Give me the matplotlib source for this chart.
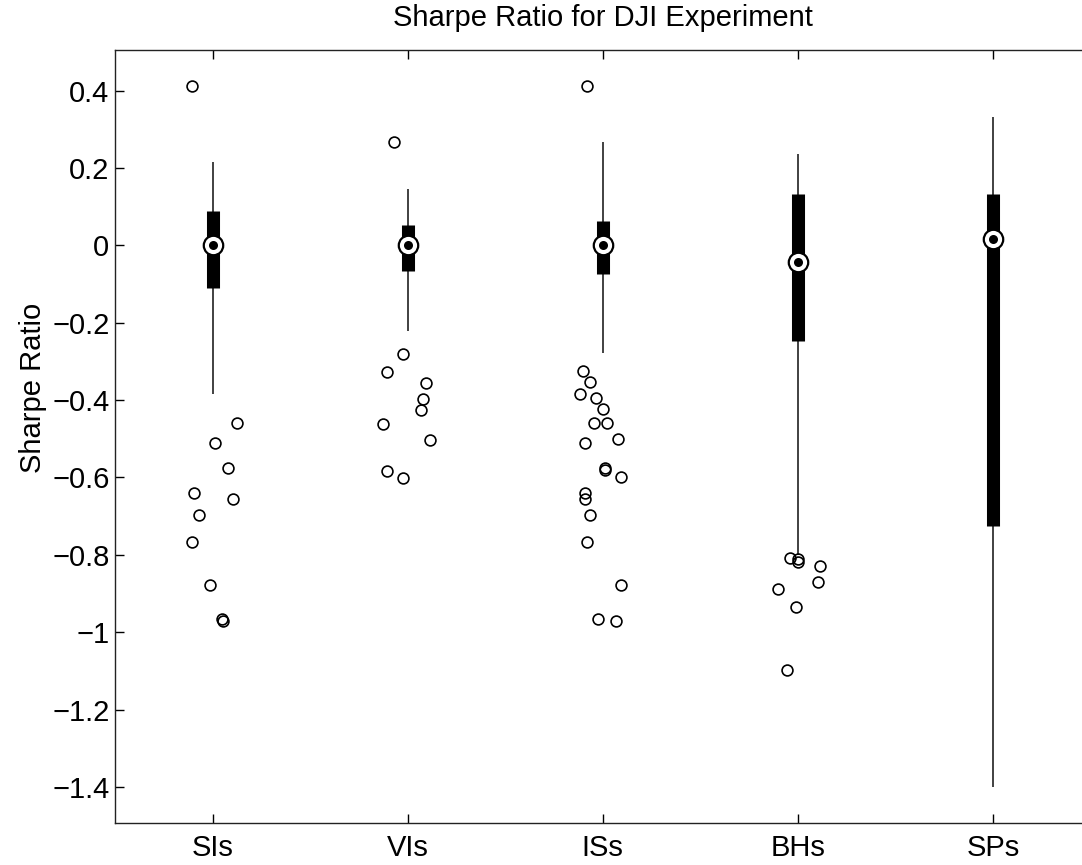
import numpy as np
import matplotlib
matplotlib.use('Agg')
import matplotlib.pyplot as plt

#%% Data

labels    = ['SIs', 'VIs', 'ISs', 'BHs', 'SPs']

whisk_hi  = [0.216, 0.145, 0.268, 0.236, 0.331]
q3        = [0.088, 0.052, 0.064, 0.133, 0.132]
medians   = [0.002, 0.002, 0.002, -0.043, 0.017]
q1        = [-0.110, -0.065, -0.074, -0.247, -0.725]
whisk_lo  = [-0.383, -0.222, -0.279, -0.800, -1.401]

# outliers, with the small horizontal jitter seen in the picture
out_SIs   = [0.412, -0.458, -0.510, -0.575, -0.639, -0.656, -0.697, -0.767, -0.878, -0.965, -0.970]
jit_SIs   = [-0.104, 0.126, 0.012, 0.080, -0.094, 0.104, -0.070, -0.104, -0.012, 0.048, 0.056]

out_VIs   = [0.267, -0.280, -0.327, -0.356, -0.396, -0.426, -0.461, -0.502, -0.583, -0.601]
jit_VIs   = [-0.070, -0.024, -0.104, 0.092, 0.080, 0.068, -0.128, 0.114, -0.104, -0.024]

out_ISs   = [0.413, -0.325, -0.354, -0.384, -0.395, -0.424, -0.458, -0.458, -0.500, -0.510,
             -0.575, -0.580, -0.598, -0.639, -0.656, -0.697, -0.767, -0.878, -0.965, -0.970]
jit_ISs   = [-0.080, -0.104, -0.068, -0.116, -0.034, 0.0, -0.046, 0.024, 0.080, -0.092,
             0.012, 0.012, 0.092, -0.092, -0.092, -0.068, -0.080, 0.092, -0.024, 0.068]

out_BHs   = [-0.808, -0.812, -0.818, -0.829, -0.870, -0.888, -0.935, -1.097]
jit_BHs   = [-0.039, 0.0, 0.002, 0.114, 0.102, -0.104, -0.012, -0.058]

out_SPs   = []
jit_SPs   = []

outliers  = [out_SIs, out_VIs, out_ISs, out_BHs, out_SPs]
jitters   = [jit_SIs, jit_VIs, jit_ISs, jit_BHs, jit_SPs]

yticks    = [-1.4, -1.2, -1.0, -0.8, -0.6, -0.4, -0.2, 0.0, 0.2, 0.4]

#%% Figure

plt.rcParams['font.family'] = ['Liberation Sans', 'DejaVu Sans']
fs = 21

fig = plt.figure(figsize=(10.82, 8.65), dpi=100)
ax = fig.add_axes([115/1082, (865-823.3)/865, 975.6/1082, 773.3/865])

pos = np.arange(1, len(labels) + 1)

# whiskers
ax.vlines(pos, whisk_lo, whisk_hi, color='#333333', lw=1.3, zorder=2)
# compact boxes
ax.vlines(pos, q1, q3, color='black', lw=9.4, capstyle='butt', zorder=3)
# medians
ax.plot(pos, medians, 'o', ms=14, mfc='white', mec='black', mew=1.6, zorder=4)
ax.plot(pos, medians, 'o', ms=6.5, mfc='black', mec='black', mew=0, zorder=5)

# outliers
for p, vals, jit in zip(pos, outliers, jitters):
    if len(vals) == 0:
        continue
    ax.plot(p + np.array(jit), vals, 'o', ms=7.8, mfc='none', mec='black', mew=1.2, zorder=4)

ax.set_xlim(0.5, 5.5)
ax.set_ylim(-1.494, 0.505)
ax.set_xticks(pos)
ax.set_xticklabels(labels)
ax.set_yticks(yticks)
ax.set_yticklabels([('%g' % t).replace('-', '\u2212') for t in yticks])

ax.tick_params(direction='in', length=6.5, width=1, top=True, right=True,
               labelsize=fs, colors='black')
ax.tick_params(axis='x', pad=8)
ax.tick_params(axis='y', pad=4)
for s in ax.spines.values():
    s.set_linewidth(1)
    s.set_color('#222222')

ax.set_title('Sharpe Ratio for DJI Experiment', fontsize=fs, pad=17)
ax.set_ylabel('Sharpe Ratio', fontsize=fs)
ax.yaxis.set_label_coords(-0.07, 0.563)

fig.savefig('out.png', dpi=100)
